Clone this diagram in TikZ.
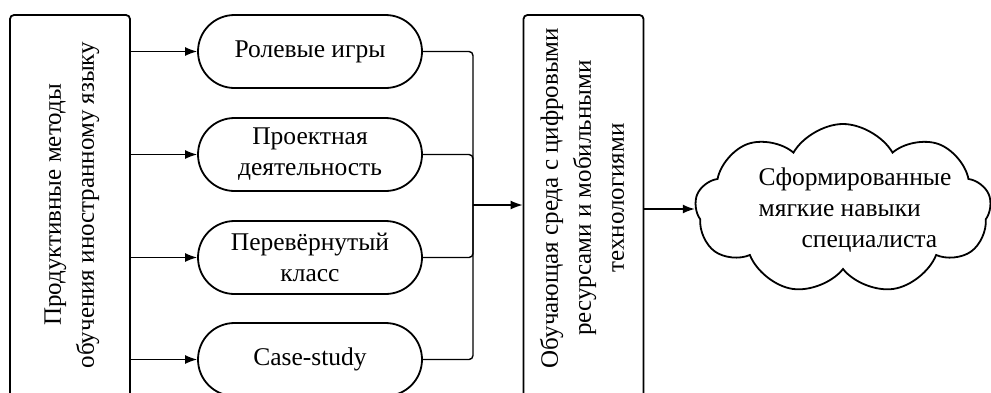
\documentclass[tikz,border=0pt]{standalone}
\usepackage{fontspec}
\setmainfont{Liberation Serif}
\usetikzlibrary{shapes.symbols, shapes.misc, arrows.meta}
\begin{document}
\begin{tikzpicture}[x=1pt,y=-1pt,
  txt/.style={font=\fontsize{25.5}{31}\selectfont, align=center, inner sep=0pt},
  rtxt/.style={font=\fontsize{25}{33}\selectfont, align=center, inner sep=0pt, rotate=90},
  bigbox/.style={draw, line width=1.8pt, rounded corners=4pt, minimum width=120pt, minimum height=400pt, inner sep=0pt},
  pill/.style={draw, line width=1.8pt, rounded rectangle, minimum width=224pt, minimum height=73pt, inner sep=0pt, font=\fontsize{25.5}{31}\selectfont, align=center},
  conn/.style={line width=1.4pt},
  arr/.style={line width=1.4pt, -{Latex[length=12pt, width=9pt]}},
  cloudbox/.style={draw, line width=1.8pt, cloud, cloud puffs=9, cloud puff arc=120, aspect=1.85, minimum width=296pt, minimum height=170pt, inner sep=0pt}
]
\useasboundingbox (0,0) rectangle (991,392);
\clip (0,0) rectangle (991,392);

\node[bigbox] (L) at (70,215) {};
\node[rtxt] (Lt) at (72,205) {Продуктивные методы\\обучения иностранному языку};

\node[pill] (P1) at (310,51.5) {Ролевые игры};
\node[pill] (P2) at (310,154.5) {Проектная\\деятельность};
\node[pill] (P3) at (310,257.5) {Перевёрнутый\\класс};
\node[pill] (P4) at (310,359.5) {Case-study};

\foreach \p in {P1,P2,P3,P4} {
  \draw[arr] (L.east |- \p.west) -- (\p.west);
}

\coordinate (J) at (473,205);
\foreach \p in {P1,P2,P3,P4} {
  \draw[conn, rounded corners=4pt] (\p.east) -| (J);
}

\node[bigbox] (M) at (583.5,215) {};
\node[rtxt] (Mt) at (582,198) {Обучающая среда с цифровыми\\ресурсами и мобильными\\технологиями};

\draw[arr] (J) -- (M.west |- J);

\node[cloudbox] (C) at (843,209) {};
\node[txt, align=left] (Ct) at (855,210) {Сформированные\\мягкие навыки\\\hspace*{43pt}специалиста};

\draw[arr] (M.east |- C.west) -- (C.west);

\coordinate (R) at (1040,213);
\draw[arr] (R) -- (C.east |- R);
\end{tikzpicture}
\end{document}
